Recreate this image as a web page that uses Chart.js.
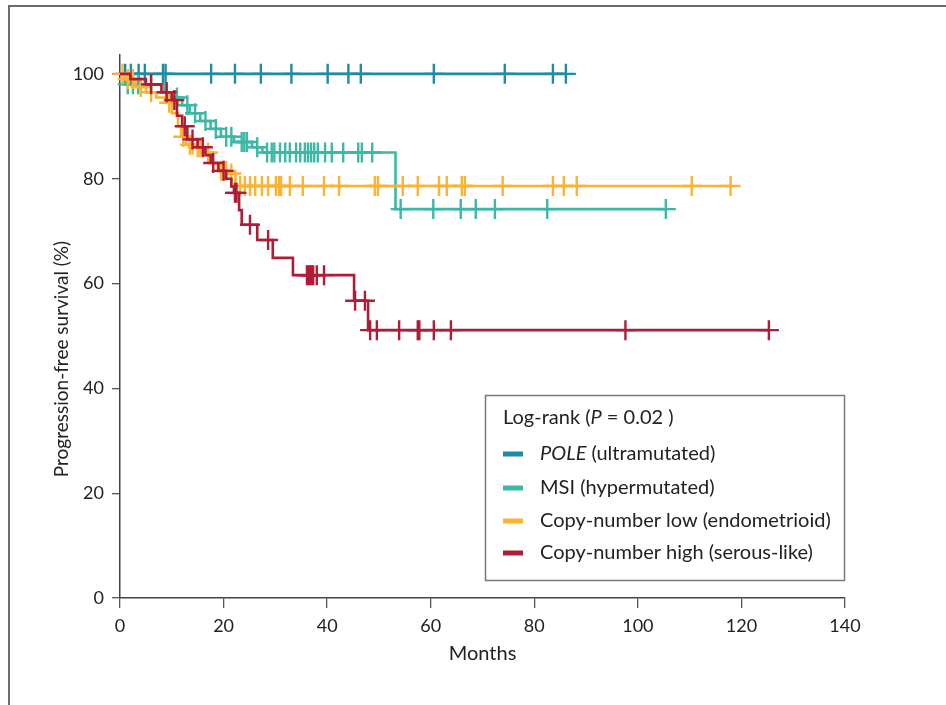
<!DOCTYPE html>
<html><head><meta charset="utf-8">
<script src="https://cdn.jsdelivr.net/npm/chart.js@4.4.1/dist/chart.umd.min.js"></script>
<style>
html,body{margin:0;padding:0;background:#fff;}
#wrap{position:relative;width:946px;height:705px;overflow:hidden;background:#fff;}
#frame{position:absolute;left:8px;top:5px;width:960px;height:720px;border-top:2px solid #6b6b6b;border-left:2px solid #6b6b6b;pointer-events:none;}
canvas{position:absolute;left:0;top:0;}
</style></head><body>
<div id="wrap"><canvas id="c" width="946" height="705"></canvas><div id="frame"></div></div>
<script>
// ---- data ----
const xTicks = [0, 20, 40, 60, 80, 100, 120, 140];
const yTicks = [0, 20, 40, 60, 80, 100];
const xTitle = "Months";
const yTitle = "Progression-free survival (%)";

const seriesNames = ["POLE (ultramutated)", "MSI (hypermutated)", "Copy-number low (endometrioid)", "Copy-number high (serous-like)"];
const seriesColors = ["#1e8ca6", "#3cb9a5", "#fbb331", "#b01c36"];

// POLE
const poleTimes = [0, 86.1];
const poleSurv  = [100, 100];
const poleCens  = [1.0, 2.1, 3.6, 4.8, 8.3, 8.8, 17.6, 22.2, 27.2, 33.1, 40.1, 44.1, 46.5, 60.6, 74.3, 83.6, 86.1];

// MSI
const msiTimes = [0, 1.0, 8.5, 10, 12, 13.5, 15.5, 17.5, 19.5, 22, 25.5, 27.5, 53.2, 105.4];
const msiSurv  = [100, 98, 96.5, 95.5, 94, 92.5, 91, 89.5, 88, 87, 86, 85, 74.2, 74.2];
const msiCens  = [1.5, 2.5, 3.5, 6, 9, 11, 13, 14.5, 16.5, 18.5, 20.5, 21.5, 23.5, 24, 24.5, 26.5, 28.4, 29.3, 29.8, 30.9, 31.9, 32.8, 34, 34.8, 35.7, 36.3, 36.9, 37.5, 38.2, 39.6, 40.9, 43.1, 46, 46.7, 48.7, 54.2, 60.5, 65.8, 68.7, 72.4, 82.5, 105.4];

// Copy-number low
const cnlTimes = [0, 1.0, 3, 5, 7, 8.7, 10, 11.2, 11.8, 12.7, 14.5, 16.4, 17.8, 18.9, 21, 22.3, 117.9];
const cnlSurv  = [100, 99, 97.5, 96.5, 95.5, 94.5, 92.5, 90, 88, 86.5, 86, 85, 83, 81.5, 81, 78.6, 78.6];
const cnlCens  = [0.5, 1.5, 2.5, 4, 6, 9.5, 12.2, 13.5, 14, 15, 15.5, 17, 19.5, 20, 20.5, 21.5, 23.2, 24.1, 25.1, 26.1, 27.4, 28.6, 30.1, 30.7, 31.1, 32.8, 35.3, 39.4, 42.3, 49.2, 49.8, 54.6, 57.5, 61.6, 63.1, 66, 66.6, 73.9, 83.6, 85.7, 88.2, 110.4, 117.9];

// Copy-number high
const cnhTimes = [0, 2, 5, 8, 10, 11, 12, 13, 15, 16.5, 17.5, 19, 20.5, 21.5, 22, 23, 23.5, 26.5, 29.5, 33.4, 45.2, 47.9, 125.3];
const cnhSurv  = [100, 99, 98, 96.5, 95, 92, 90, 87.5, 86, 84.5, 83, 81.5, 80, 78.5, 77.3, 74, 71.2, 68.3, 64.9, 61.6, 56.7, 51.1, 51.1];
const cnhCens  = [6, 9, 10.5, 12.5, 14, 16, 18, 20, 22.2, 22.5, 25.1, 28.6, 36.1, 36.4, 36.7, 37, 37.3, 38, 39.4, 45.4, 47.3, 48.3, 49.6, 53.9, 57.5, 57.8, 60.6, 63.9, 97.6, 125.3];

const groups = [
  {times: poleTimes, surv: poleSurv, cens: poleCens},
  {times: msiTimes, surv: msiSurv, cens: msiCens},
  {times: cnlTimes, surv: cnlSurv, cens: cnlCens},
  {times: cnhTimes, surv: cnhSurv, cens: cnhCens}
];

// ---- build datasets ----
function survAt(times, surv, t) {
  let v = surv[0];
  for (let i = 0; i < times.length; i++) { if (times[i] <= t) v = surv[i]; }
  return v;
}
const FONT = "Lato, 'Open Sans', sans-serif";
const datasets = [];
const drawOrder = [3, 2, 1, 0];
groups.forEach((g, i) => {
  datasets.push({
    type: 'line', label: seriesNames[i],
    data: g.times.map((t, k) => ({x: t, y: g.surv[k]})),
    borderColor: seriesColors[i], borderWidth: 2.6, stepped: 'before',
    pointRadius: 0, fill: false, tension: 0, order: drawOrder[i], clip: false
  });
  datasets.push({
    type: 'scatter', label: seriesNames[i] + ' censored',
    data: g.cens.map(t => ({x: t, y: survAt(g.times, g.surv, t)})),
    pointStyle: 'cross', pointRadius: 10, pointHoverRadius: 10,
    borderColor: seriesColors[i], pointBorderColor: seriesColors[i], borderWidth: 2.4,
    showLine: false, order: drawOrder[i], clip: false
  });
});

const titlesPlugin = {
  id: 'titles',
  afterDraw(chart) {
    const ctx = chart.ctx;
    ctx.save();
    ctx.fillStyle = '#222';
    ctx.textAlign = 'center';
    ctx.textBaseline = 'middle';
    ctx.font = "20px " + FONT;
    ctx.fillText(xTitle, (chart.chartArea.left + chart.chartArea.right) / 2, 654);
    ctx.font = "19px " + FONT;
    ctx.translate(62, 359);
    ctx.rotate(-Math.PI / 2);
    ctx.fillText(yTitle, 0, 0);
    ctx.restore();
  }
};

const legendPlugin = {
  id: 'kmLegend',
  afterDraw(chart) {
    const ctx = chart.ctx;
    ctx.save();
    const bx = 485.5, by = 395.5, bw = 359, bh = 185;
    ctx.fillStyle = '#fff';
    ctx.fillRect(bx, by, bw, bh);
    ctx.strokeStyle = '#7a7a7a';
    ctx.lineWidth = 1.5;
    ctx.strokeRect(bx, by, bw, bh);
    ctx.fillStyle = '#222';
    ctx.textBaseline = 'middle';
    ctx.textAlign = 'left';
    const FS = "20px ";
    let x = 503, y = 418;
    const parts = [["Log-rank (", false], ["P", true], [" = 0.02 )", false]];
    parts.forEach(([s, it]) => {
      ctx.font = (it ? "italic " : "") + FS + FONT;
      ctx.fillText(s, x, y);
      x += ctx.measureText(s).width;
    });
    const rows = [454, 488, 521, 553];
    seriesNames.forEach((name, i) => {
      ctx.fillStyle = seriesColors[i];
      ctx.fillRect(503, rows[i] - 2.5, 20, 5);
      ctx.fillStyle = '#222';
      let tx = 540;
      let segs;
      if (name.startsWith("POLE")) segs = [["POLE", true], [name.slice(4), false]];
      else segs = [[name, false]];
      segs.forEach(([s, it]) => {
        ctx.font = (it ? "italic " : "") + FS + FONT;
        ctx.fillText(s, tx, rows[i]);
        tx += ctx.measureText(s).width;
      });
    });
    ctx.restore();
  }
};

new Chart(document.getElementById('c'), {
  data: {datasets},
  options: {
    responsive: false, animation: false, devicePixelRatio: 1,
    layout: {padding: {top: 55, right: 101, left: 0, bottom: 0}},
    plugins: {legend: {display: false}, tooltip: {enabled: false}, title: {display: false}},
    scales: {
      x: {
        type: 'linear', min: 0, max: 140,
        afterBuildTicks: s => { s.ticks = xTicks.map(v => ({value: v})); },
        afterFit: s => { s.height = 107; },
        ticks: {font: {size: 18, family: FONT}, color: '#222', padding: 7, maxRotation: 0},
        grid: {display: true, drawOnChartArea: false, drawTicks: true, tickLength: 10, color: '#555', lineWidth: 1.3},
        border: {display: true, color: '#444', width: 1.5},
        title: {display: false}
      },
      y: {
        type: 'linear', min: 0, max: 103.6,
        afterBuildTicks: s => { s.ticks = yTicks.map(v => ({value: v})); },
        afterFit: s => { s.width = 120; },
        ticks: {font: {size: 18, family: FONT}, color: '#222', padding: 8},
        grid: {display: true, drawOnChartArea: false, drawTicks: true, tickLength: 8, color: '#555', lineWidth: 1.3},
        border: {display: true, color: '#444', width: 1.5},
        title: {display: false}
      }
    }
  },
  plugins: [titlesPlugin, legendPlugin]
});
</script>
</body></html>
